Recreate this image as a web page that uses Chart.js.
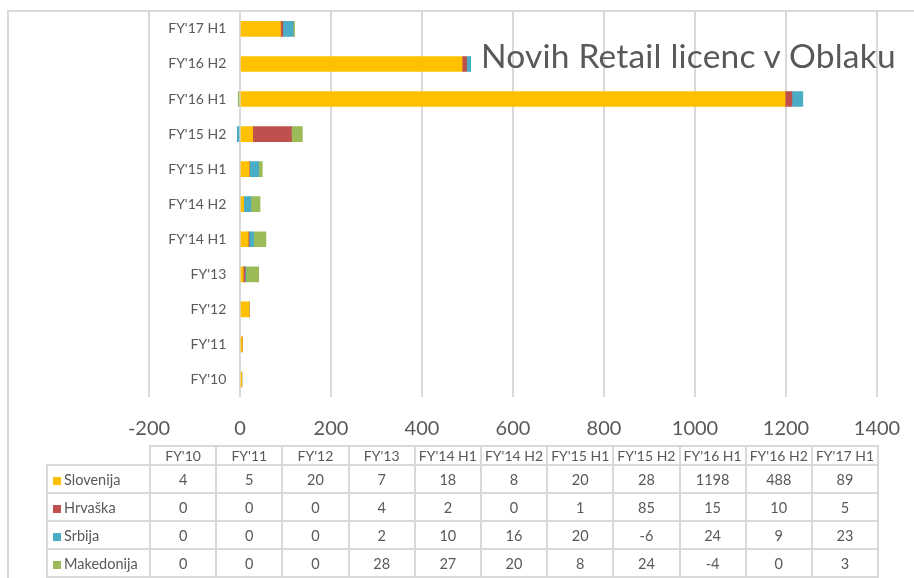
<!DOCTYPE html>
<html>
<head>
<meta charset="utf-8">
<script src="https://cdn.jsdelivr.net/npm/chart.js@4"></script>
<style>
  body { margin: 0; background: #fff; font-family: Lato, sans-serif; }
  #wrap { position: relative; width: 914px; height: 578px; overflow: hidden; }
  #frame { position: absolute; left: 7px; top: 10px; width: 920px; height: 600px;
           border-left: 2px solid #d9d9d9; border-top: 2px solid #d9d9d9; }
  #myChart { position: absolute; left: 0; top: 0; }
  #title { position: absolute; left: 481px; top: 35px; font-size: 33.5px; color: #595959; white-space: nowrap; letter-spacing: 0.2px; }
  #dataTable { position: absolute; left: 46px; top: 445px; border-collapse: collapse;
               font-size: 14.5px; color: #595959; table-layout: fixed; }
  #dataTable td { border: 2px solid #d9d9d9; text-align: center; padding: 0; height: 26px; white-space: nowrap; }
  #dataTable tr.head td { height: 17px; font-size: 14px; }
  #dataTable td.corner { border-top: none; border-left: none; }
  #dataTable td.name { text-align: left; padding-left: 5px; }
  .key { display: inline-block; width: 8px; height: 8px; margin-right: 3px; }
</style>
</head>
<body>
<div id="wrap">
  <div id="frame"></div>
  <canvas id="myChart" width="914" height="578"></canvas>
  <div id="title">Novih Retail licenc v Oblaku</div>
  <table id="dataTable"></table>
</div>
<script>
const periods = ["FY'10", "FY'11", "FY'12", "FY'13", "FY'14 H1", "FY'14 H2", "FY'15 H1", "FY'15 H2", "FY'16 H1", "FY'16 H2", "FY'17 H1"];
const slovenija = [4, 5, 20, 7, 18, 8, 20, 28, 1198, 488, 89];
const hrvaska = [0, 0, 0, 4, 2, 0, 1, 85, 15, 10, 5];
const srbija = [0, 0, 0, 2, 10, 16, 20, -6, 24, 9, 23];
const makedonija = [0, 0, 0, 28, 27, 20, 8, 24, -4, 0, 3];
const seriesNames = ['Slovenija', 'Hrvaška', 'Srbija', 'Makedonija'];
const seriesColors = ['#FFC000', '#C0504D', '#4BACC6', '#9BBB59'];
const xTicks = [-200, 0, 200, 400, 600, 800, 1000, 1200, 1400];

const seriesValues = [slovenija, hrvaska, srbija, makedonija];
const textColor = '#595959';

const ctx = document.getElementById('myChart').getContext('2d');
const myChart = new Chart(ctx, {
    type: 'bar',
    data: {
        labels: periods,
        datasets: seriesNames.map((name, i) => ({
            label: name,
            data: seriesValues[i],
            backgroundColor: seriesColors[i],
            borderWidth: 0,
            barThickness: 15
        }))
    },
    options: {
        indexAxis: 'y',
        responsive: false,
        animation: false,
        layout: { padding: { left: 149, right: 37, top: 3, bottom: 136 } },
        plugins: {
            legend: { display: false },
            tooltip: { enabled: false }
        },
        scales: {
            x: {
                stacked: true,
                min: xTicks[0],
                max: xTicks[xTicks.length - 1],
                afterBuildTicks: function(scale) {
                    scale.ticks = xTicks.map(v => ({ value: v }));
                },
                afterFit: function(scale) {
                    scale.height = 45;
                    // keep the long end labels from eating into the plot width
                    scale.paddingLeft = 0;
                    scale.paddingRight = 0;
                },
                grid: { color: '#d9d9d9', lineWidth: 2, drawTicks: false },
                border: { display: false },
                ticks: {
                    color: textColor,
                    padding: 20,
                    font: { family: 'Lato', size: 20 },
                    callback: function(value) { return String(value); }
                }
            },
            y: {
                stacked: true,
                reverse: true,
                // labels sit just left of the zero line, like excel's "axis crosses at 0"
                position: { x: -30 },
                grid: { display: false },
                border: { display: false },
                ticks: {
                    color: textColor,
                    font: { family: 'Lato', size: 14 }
                }
            }
        }
    }
});

function buildTable() {
    const table = document.getElementById('dataTable');
    let html = '<colgroup><col style="width:103px">';
    periods.forEach(() => { html += '<col style="width:66.2px">'; });
    html += '</colgroup><tr class="head"><td class="corner"></td>';
    periods.forEach(p => { html += `<td>${p}</td>`; });
    html += '</tr>';
    seriesNames.forEach((name, i) => {
        html += `<tr><td class="name"><span class="key" style="background:${seriesColors[i]}"></span>${name}</td>`;
        seriesValues[i].forEach(v => { html += `<td>${v}</td>`; });
        html += '</tr>';
    });
    table.innerHTML = html;
}
buildTable();
</script>
</body>
</html>
